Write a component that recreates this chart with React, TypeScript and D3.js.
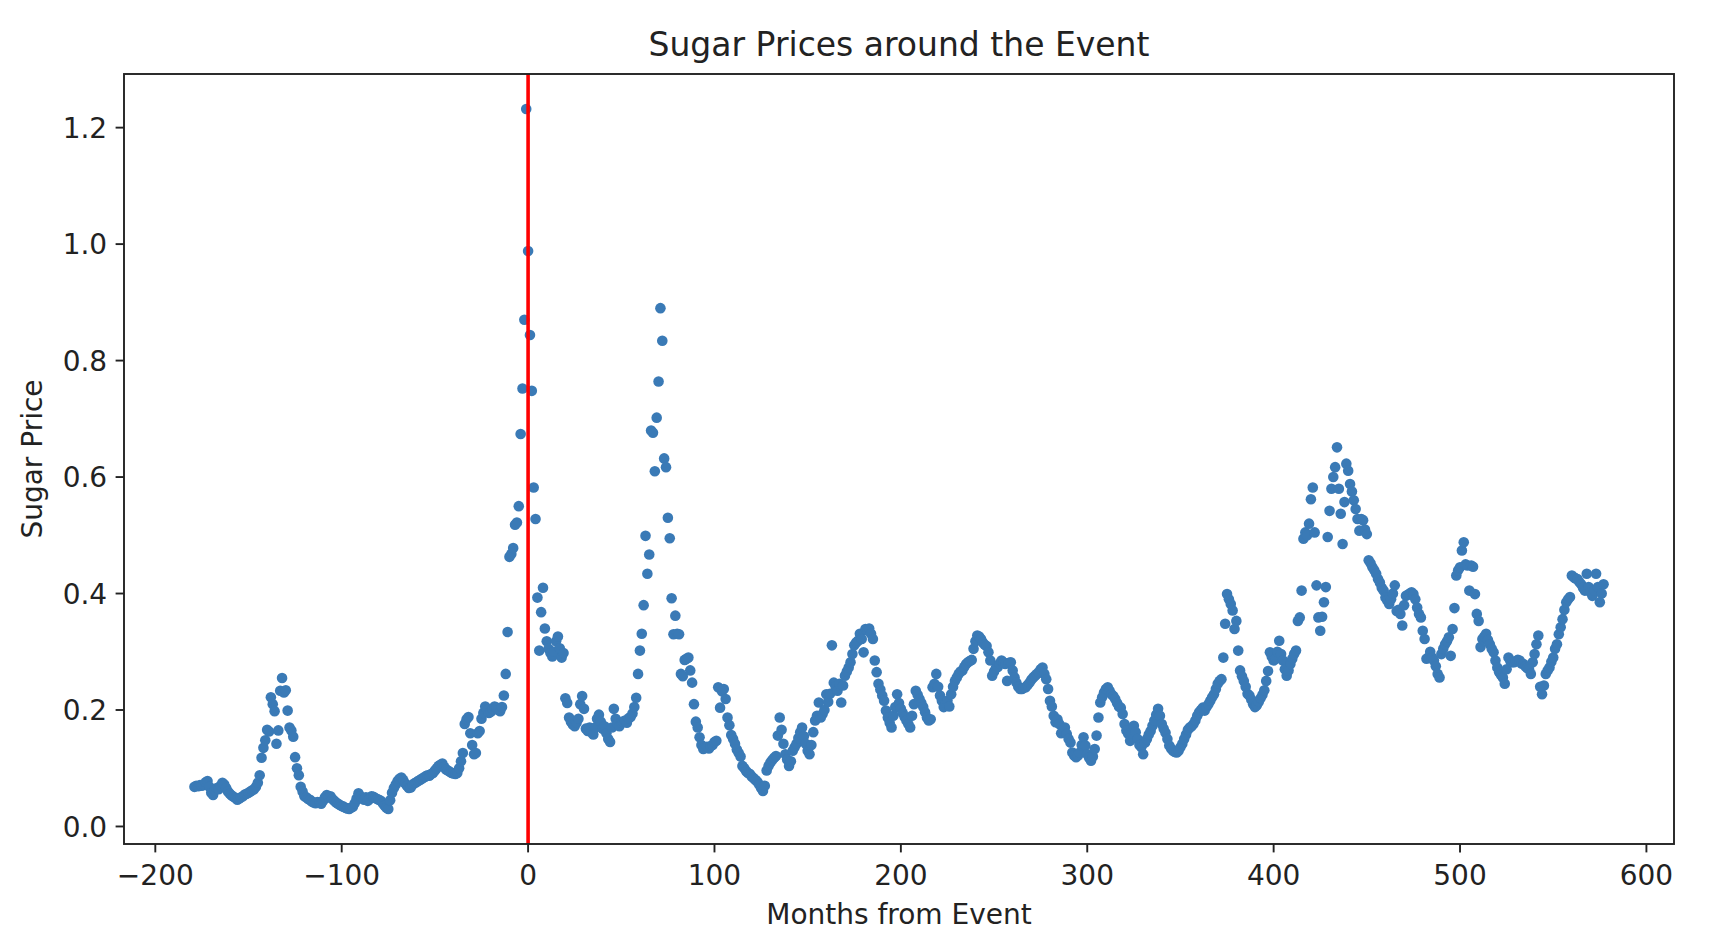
import * as d3 from "d3";

// --- Данные: цена сахара по месяцам относительно события ---

const FIRST_MONTH = -179;

// значения, по 10 месяцев в строке
const sugarPrice: number[] = [
  // -179
  0.068, 0.070, 0.069, 0.071, 0.070, 0.072, 0.076, 0.078, 0.068, 0.058,
  0.054, 0.062, 0.066, 0.064, 0.070, 0.075, 0.072, 0.066, 0.060, 0.056,
  0.053, 0.051, 0.049, 0.046, 0.048, 0.050, 0.052, 0.055, 0.056, 0.058,
  0.060, 0.062, 0.064, 0.068, 0.075, 0.088, 0.118, 0.135, 0.148, 0.166,
  // -139
  0.163, 0.222, 0.210, 0.198, 0.142, 0.165, 0.233, 0.255, 0.230, 0.234,
  0.199, 0.170, 0.165, 0.154, 0.119, 0.100, 0.088, 0.068, 0.060, 0.052,
  0.050, 0.047, 0.046, 0.043, 0.041, 0.040, 0.042, 0.041, 0.039, 0.044,
  0.050, 0.054, 0.050, 0.052, 0.047, 0.044, 0.041, 0.039, 0.037, 0.035,
  // -99
  0.034, 0.032, 0.031, 0.030, 0.032, 0.034, 0.040, 0.048, 0.057, 0.052,
  0.048, 0.046, 0.050, 0.044, 0.047, 0.052, 0.051, 0.049, 0.047, 0.046,
  0.044, 0.040, 0.036, 0.032, 0.030, 0.045, 0.058, 0.066, 0.072, 0.078,
  0.082, 0.084, 0.080, 0.074, 0.070, 0.066, 0.067, 0.072, 0.074, 0.076,
  // -59
  0.078, 0.080, 0.082, 0.084, 0.086, 0.088, 0.087, 0.090, 0.092, 0.096,
  0.100, 0.104, 0.106, 0.108, 0.102, 0.098, 0.096, 0.094, 0.092, 0.091,
  0.090, 0.092, 0.100, 0.112, 0.126, 0.176, 0.184, 0.188, 0.160, 0.140,
  0.124, 0.126, 0.160, 0.164, 0.185, 0.195, 0.206, 0.200, 0.195, 0.197,
  // -19
  0.202, 0.206, 0.204, 0.200, 0.198, 0.205, 0.225, 0.262, 0.334, 0.463,
  0.468, 0.478, 0.518, 0.522, 0.550, 0.674, 0.752, 0.870, 1.232, 0.988,
  // 1
  0.844, 0.748, 0.582, 0.528, 0.393, 0.302, 0.368, 0.410, 0.340, 0.318,
  0.305, 0.298, 0.292, 0.300, 0.318, 0.326, 0.306, 0.290, 0.298, 0.220,
  0.212, 0.187, 0.180, 0.175, 0.172, 0.178, 0.185, 0.210, 0.224, 0.202,
  0.168, 0.164, 0.170, 0.162, 0.158, 0.170, 0.185, 0.192, 0.180, 0.168,
  // 41
  0.172, 0.160, 0.150, 0.145, 0.170, 0.202, 0.185, 0.176, 0.172, 0.178,
  0.180, 0.182, 0.178, 0.186, 0.188, 0.194, 0.205, 0.221, 0.262, 0.302,
  0.331, 0.380, 0.499, 0.434, 0.467, 0.680, 0.676, 0.610, 0.702, 0.764,
  0.890, 0.834, 0.632, 0.617, 0.530, 0.495, 0.392, 0.330, 0.362, 0.331,
  // 81
  0.330, 0.262, 0.258, 0.286, 0.288, 0.290, 0.268, 0.247, 0.210, 0.180,
  0.170, 0.153, 0.140, 0.133, 0.136, 0.137, 0.134, 0.138, 0.140, 0.145,
  0.147, 0.239, 0.204, 0.232, 0.236, 0.219, 0.187, 0.174, 0.157, 0.150,
  0.142, 0.132, 0.126, 0.120, 0.104, 0.100, 0.095, 0.092, 0.090, 0.086,
  // 121
  0.083, 0.080, 0.077, 0.072, 0.066, 0.061, 0.070, 0.096, 0.104, 0.110,
  0.114, 0.118, 0.121, 0.156, 0.187, 0.166, 0.142, 0.124, 0.115, 0.104,
  0.112, 0.130, 0.136, 0.142, 0.152, 0.162, 0.170, 0.155, 0.142, 0.130,
  0.124, 0.140, 0.162, 0.182, 0.190, 0.213, 0.187, 0.193, 0.200, 0.227,
  // 161
  0.214, 0.228, 0.311, 0.247, 0.240, 0.233, 0.245, 0.213, 0.242, 0.259,
  0.266, 0.273, 0.282, 0.296, 0.311, 0.316, 0.319, 0.331, 0.322, 0.299,
  0.339, 0.337, 0.340, 0.331, 0.322, 0.285, 0.265, 0.245, 0.235, 0.225,
  0.216, 0.199, 0.187, 0.178, 0.170, 0.190, 0.205, 0.227, 0.212, 0.202,
  // 201
  0.195, 0.188, 0.182, 0.176, 0.170, 0.190, 0.210, 0.233, 0.226, 0.219,
  0.212, 0.205, 0.196, 0.187, 0.182, 0.184, 0.239, 0.245, 0.262, 0.240,
  0.225, 0.216, 0.205, 0.212, 0.216, 0.206, 0.227, 0.240, 0.250, 0.256,
  0.262, 0.266, 0.268, 0.274, 0.279, 0.282, 0.284, 0.286, 0.305, 0.318,
  // 241
  0.328, 0.326, 0.322, 0.316, 0.312, 0.310, 0.299, 0.285, 0.259, 0.266,
  0.272, 0.274, 0.280, 0.285, 0.282, 0.279, 0.250, 0.281, 0.282, 0.268,
  0.256, 0.247, 0.240, 0.236, 0.236, 0.238, 0.239, 0.243, 0.247, 0.252,
  0.256, 0.259, 0.262, 0.265, 0.270, 0.273, 0.262, 0.253, 0.236, 0.216,
  // 281
  0.206, 0.190, 0.179, 0.184, 0.176, 0.160, 0.165, 0.170, 0.159, 0.150,
  0.144, 0.127, 0.122, 0.119, 0.122, 0.127, 0.140, 0.153, 0.139, 0.124,
  0.118, 0.113, 0.120, 0.133, 0.156, 0.187, 0.213, 0.222, 0.230, 0.236,
  0.239, 0.233, 0.227, 0.224, 0.219, 0.212, 0.206, 0.204, 0.193, 0.176,
  // 321
  0.165, 0.159, 0.147, 0.160, 0.173, 0.162, 0.150, 0.140, 0.136, 0.124,
  0.144, 0.150, 0.158, 0.164, 0.173, 0.182, 0.192, 0.202, 0.190, 0.176,
  0.168, 0.161, 0.150, 0.139, 0.134, 0.130, 0.128, 0.127, 0.130, 0.136,
  0.142, 0.150, 0.158, 0.166, 0.170, 0.172, 0.176, 0.182, 0.190, 0.196,
  // 361
  0.200, 0.204, 0.199, 0.205, 0.210, 0.216, 0.222, 0.227, 0.236, 0.245,
  0.250, 0.253, 0.290, 0.348, 0.399, 0.390, 0.382, 0.371, 0.339, 0.353,
  0.302, 0.268, 0.258, 0.250, 0.240, 0.228, 0.225, 0.218, 0.210, 0.205,
  0.208, 0.214, 0.220, 0.226, 0.234, 0.250, 0.267, 0.299, 0.292, 0.285,
  // 401
  0.288, 0.300, 0.319, 0.296, 0.285, 0.270, 0.259, 0.268, 0.279, 0.288,
  0.296, 0.302, 0.353, 0.359, 0.405, 0.494, 0.505, 0.500, 0.520, 0.562,
  0.582, 0.505, 0.414, 0.359, 0.336, 0.360, 0.385, 0.411, 0.497, 0.542,
  0.580, 0.600, 0.617, 0.651, 0.580, 0.537, 0.485, 0.557, 0.623, 0.611,
  // 441
  0.588, 0.575, 0.560, 0.545, 0.528, 0.508, 0.528, 0.526, 0.510, 0.502,
  0.457, 0.452, 0.445, 0.440, 0.434, 0.425, 0.419, 0.410, 0.405, 0.393,
  0.388, 0.382, 0.390, 0.400, 0.414, 0.370, 0.372, 0.365, 0.345, 0.380,
  0.396, 0.398, 0.400, 0.402, 0.399, 0.390, 0.376, 0.365, 0.359, 0.336,
  // 481
  0.322, 0.288, 0.290, 0.300, 0.290, 0.285, 0.275, 0.262, 0.256, 0.296,
  0.305, 0.313, 0.318, 0.325, 0.293, 0.339, 0.375, 0.431, 0.440, 0.445,
  0.474, 0.488, 0.450, 0.448, 0.405, 0.448, 0.446, 0.399, 0.365, 0.353,
  0.308, 0.322, 0.326, 0.331, 0.320, 0.313, 0.305, 0.299, 0.285, 0.273,
  // 521
  0.265, 0.260, 0.256, 0.245, 0.270, 0.290, 0.284, 0.282, 0.282, 0.284,
  0.286, 0.285, 0.280, 0.279, 0.275, 0.272, 0.270, 0.262, 0.282, 0.296,
  0.313, 0.328, 0.240, 0.227, 0.242, 0.262, 0.268, 0.273, 0.283, 0.290,
  0.305, 0.313, 0.330, 0.342, 0.356, 0.372, 0.385, 0.390, 0.394, 0.431,
  // 561
  0.428, 0.426, 0.425, 0.420, 0.416, 0.410, 0.405, 0.434, 0.411, 0.402,
  0.396, 0.405, 0.434, 0.411, 0.385, 0.400, 0.416,
];

const months = sugarPrice.map((_, i) => FIRST_MONTH + i);

const EVENT_MONTH = 0;

const xTicks = [-200, -100, 0, 100, 200, 300, 400, 500, 600];
const yTicks = [0, 0.2, 0.4, 0.6, 0.8, 1.0, 1.2];

// --- Размеры ---

const SIZE = { width: 1720, height: 941 };

const PLOT = { left: 124, right: 1674, top: 74, bottom: 844 };

const FONT = "DejaVu Sans, sans-serif";
const TEXT_COLOR = "#222";
const DOT = { r: 5.3, color: "#3a7ab6" };
const TICK = { length: 8.4, pad: 8.4, fontSize: 28, xBaseline: 885 };
const TITLE = { fontSize: 33, baseline: 56 };
const LABEL = { fontSize: 28, xBaseline: 924, yBaseline: 42 };

// matplotlib оставляет 5% по краям
function paddedDomain(values: number[]): [number, number] {
  const [lo, hi] = d3.extent(values) as [number, number];
  const pad = (hi - lo) * 0.05;
  return [lo - pad, hi + pad];
}

const minus = (v: number) => String(v).replace("-", "\u2212");

export default function App() {
  const x = d3
    .scaleLinear()
    .domain(paddedDomain(months))
    .range([PLOT.left, PLOT.right]);
  const y = d3
    .scaleLinear()
    .domain(paddedDomain(sugarPrice))
    .range([PLOT.bottom, PLOT.top]);

  const midX = (PLOT.left + PLOT.right) / 2;
  const midY = (PLOT.top + PLOT.bottom) / 2;

  return (
    <svg
      width={SIZE.width}
      height={SIZE.height}
      style={{ position: "absolute", left: 0, top: 0, background: "#fff" }}
      fontFamily={FONT}
    >
      <defs>
        <clipPath id="plot-clip">
          <rect
            x={PLOT.left}
            y={PLOT.top}
            width={PLOT.right - PLOT.left}
            height={PLOT.bottom - PLOT.top}
          />
        </clipPath>
      </defs>

      <text
        x={midX}
        y={TITLE.baseline}
        fontSize={TITLE.fontSize}
        fill={TEXT_COLOR}
        textAnchor="middle"
      >
        Sugar Prices around the Event
      </text>

      <g clipPath="url(#plot-clip)">
        {sugarPrice.map((v, i) => (
          <circle
            key={i}
            cx={x(months[i])}
            cy={y(v)}
            r={DOT.r}
            fill={DOT.color}
          />
        ))}
        <line
          x1={x(EVENT_MONTH)}
          x2={x(EVENT_MONTH)}
          y1={PLOT.top}
          y2={PLOT.bottom}
          stroke="red"
          strokeWidth={3.6}
        />
      </g>

      <rect
        x={PLOT.left}
        y={PLOT.top}
        width={PLOT.right - PLOT.left}
        height={PLOT.bottom - PLOT.top}
        fill="none"
        stroke={TEXT_COLOR}
        strokeWidth={1.9}
      />

      {xTicks.map((t) => (
        <g key={t}>
          <line
            x1={x(t)}
            x2={x(t)}
            y1={PLOT.bottom}
            y2={PLOT.bottom + TICK.length}
            stroke={TEXT_COLOR}
            strokeWidth={1.9}
          />
          <text
            x={x(t)}
            y={TICK.xBaseline}
            fontSize={TICK.fontSize}
            fill={TEXT_COLOR}
            textAnchor="middle"
          >
            {minus(t)}
          </text>
        </g>
      ))}

      {yTicks.map((t) => (
        <g key={t}>
          <line
            x1={PLOT.left - TICK.length}
            x2={PLOT.left}
            y1={y(t)}
            y2={y(t)}
            stroke={TEXT_COLOR}
            strokeWidth={1.9}
          />
          <text
            x={PLOT.left - TICK.length - TICK.pad}
            y={y(t)}
            dy="0.36em"
            fontSize={TICK.fontSize}
            fill={TEXT_COLOR}
            textAnchor="end"
          >
            {t.toFixed(1)}
          </text>
        </g>
      ))}

      <text
        x={midX}
        y={LABEL.xBaseline}
        fontSize={LABEL.fontSize}
        fill={TEXT_COLOR}
        textAnchor="middle"
      >
        Months from Event
      </text>

      <text
        transform={`translate(${LABEL.yBaseline}, ${midY}) rotate(-90)`}
        fontSize={LABEL.fontSize}
        fill={TEXT_COLOR}
        textAnchor="middle"
      >
        Sugar Price
      </text>
    </svg>
  );
}
